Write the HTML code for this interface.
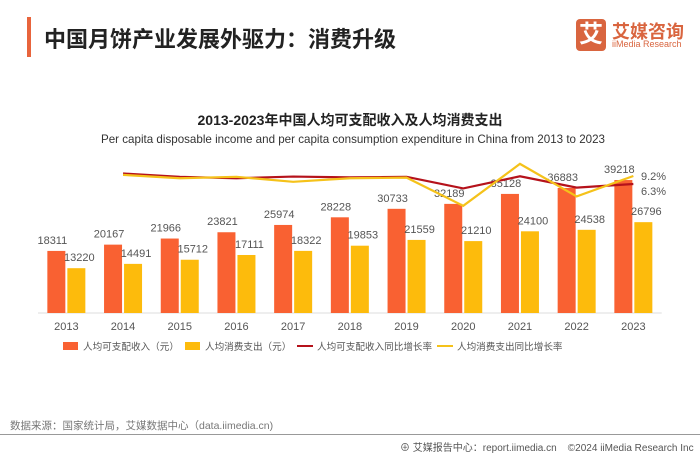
<!DOCTYPE html>
<html><head><meta charset="utf-8"><style>
body{margin:0;width:700px;height:455px;background:#fff;overflow:hidden;font-family:"Liberation Sans","Noto Sans CJK SC",sans-serif;position:relative}
.a{position:absolute;white-space:nowrap}
</style></head><body>
<div class="a" style="left:27px;top:17px;width:4px;height:40px;background:#e8643c"></div>
<div class="a" style="left:44px;top:22px;font-size:22px;font-weight:bold;color:#222">中国月饼产业发展外驱力：消费升级</div>
<div class="a" style="left:576px;top:19px;width:30px;height:32px;background:#d9653f;border-radius:4px;color:#fff;font-size:24px;font-weight:bold;text-align:center;line-height:32px">艾</div>
<div class="a" style="left:612px;top:18px;font-size:18px;font-weight:bold;color:#d9653f">艾媒咨询</div>
<div class="a" style="left:612px;top:39px;font-size:9px;color:#d9653f">iiMedia Research</div>
<div class="a" style="left:0;width:700px;text-align:center;top:110px;font-size:14px;font-weight:bold;color:#222">2013-2023年中国人均可支配收入及人均消费支出</div>
<div class="a" style="left:0;width:706px;text-align:center;top:133px;font-size:11.6px;color:#333">Per capita disposable income and per capita consumption expenditure in China from 2013 to 2023</div>
<svg class="a" style="left:0;top:0" width="700" height="455" id="chart"></svg>
<div class="a" style="left:10px;top:418px;font-size:10.5px;color:#777">数据来源：国家统计局，艾媒数据中心（data.iimedia.cn)</div>
<div class="a" style="left:0;top:434px;width:700px;height:1px;background:#999"></div>
<div class="a" style="left:400px;top:439px;font-size:10px;color:#555">⊕ 艾媒报告中心：report.iimedia.cn &nbsp;&nbsp; ©2024 iiMedia Research Inc</div>
<script>
const years=['2013','2014','2015','2016','2017','2018','2019','2020','2021','2022','2023'];
const income=[18311,20167,21966,23821,25974,28228,30733,32189,35128,36883,39218];
const consumption=[13220,14491,15712,17111,18322,19853,21559,21210,24100,24538,26796];
const incomeGrowth=[null,10.1,8.9,8.4,9.0,8.7,8.9,4.7,9.1,5.0,6.3];
const consGrowth=[null,9.6,8.4,8.9,7.1,8.4,8.6,-1.6,13.6,1.8,9.2];
const svg=document.getElementById('chart');const NS='http://www.w3.org/2000/svg';
const base=313,step=56.7,x0=38;
const cx=i=>x0+step*(i+0.5);
const yb=v=>base-v*0.00339;
const yl=v=>201.4-v*2.76;
function mk(t,a){const e=document.createElementNS(NS,t);for(const k in a)e.setAttribute(k,a[k]);svg.appendChild(e);return e;}
let ax=mk('line',{x1:x0,x2:x0+step*11,y1:base,y2:base,stroke:'#ddd'});


years.forEach((y,i)=>{
 let b=mk('rect',{x:cx(i)-19,y:yb(income[i]),width:18,height:base-yb(income[i]),fill:'#f96132'});
 
 
 let c=mk('rect',{x:cx(i)+1,y:yb(consumption[i]),width:18,height:base-yb(consumption[i]),fill:'#fdbb0c'});
 
 
 let t1=mk('text',{x:cx(i)-14,y:yb(income[i])-7,'font-size':11,fill:'#555','text-anchor':'middle'});t1.textContent=income[i];
 
 
 let t2=mk('text',{x:cx(i)+13,y:yb(consumption[i])-7,'font-size':11,fill:'#555','text-anchor':'middle'});t2.textContent=consumption[i];
 
 
 let t3=mk('text',{x:cx(i),y:base+17,'font-size':11,fill:'#555','text-anchor':'middle'});t3.textContent=y;
 
 
});
function line(arr,col,name){let p=[];arr.forEach((v,i)=>{if(v!==null)p.push(cx(i)+','+yl(v));});
 let l=mk('polyline',{points:p.join(' '),fill:'none',stroke:col,'stroke-width':2.2});
 
 }
line(incomeGrowth,'#b5121b','income-growth-line');
line(consGrowth,'#f5c21a','consumption-growth-line');
let g1=mk('text',{x:641,y:yl(9.2)+4,'font-size':11,fill:'#555'});g1.textContent='9.2%';


let g2=mk('text',{x:641,y:yl(6.3)+11,'font-size':11,fill:'#555'});g2.textContent='6.3%';


const leg=[['rect','#f96132','人均可支配收入（元）',63],['rect','#fdbb0c','人均消费支出（元）',185],['line','#b5121b','人均可支配收入同比增长率',297],['line','#f5c21a','人均消费支出同比增长率',437]];
leg.forEach((L,k)=>{
 let m=L[0]=='rect'?mk('rect',{x:L[3],y:342,width:15,height:8,fill:L[1]}):mk('line',{x1:L[3],x2:L[3]+16,y1:346,y2:346,stroke:L[1],'stroke-width':2});
 
 
 let t=mk('text',{x:L[3]+20,y:350,'font-size':9.6,fill:'#555'});t.textContent=L[2];
 
 
});
</script>
</body></html>
